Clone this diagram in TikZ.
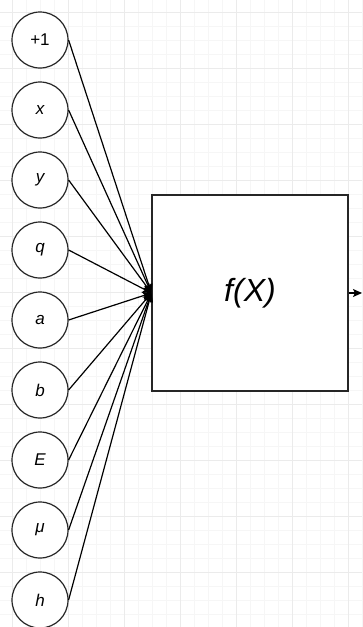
\documentclass[tikz,border=0pt]{standalone}
\usepackage{fontspec}
\setmainfont{Liberation Sans}
\usetikzlibrary{arrows.meta}
\definecolor{gridmajor}{HTML}{EBEBEB}
\definecolor{gridminor}{HTML}{F6F6F6}
\definecolor{strokegray}{HTML}{262626}
\tikzset{
  inputnode/.style={circle, draw=strokegray, line width=1.2pt, minimum size=56pt, inner sep=0pt, font=\fontsize{17}{19}\selectfont\itshape, fill=white},
  funcbox/.style={draw=strokegray, line width=1.2pt, minimum width=196pt, minimum height=196pt, inner sep=0pt, fill=white, font=\fontsize{32}{36}\selectfont\itshape},
  conn/.style={line width=1.2pt, black, -{Stealth[length=9pt,width=8pt,inset=2pt]}},
}
\begin{document}
\begin{tikzpicture}[x=1pt,y=-1pt]
\useasboundingbox (0,0) rectangle (362,627);
\fill[white] (0,0) rectangle (362,627);
% minor grid
\foreach \i in {0,...,26} {
  \draw[gridminor, line width=0.8pt] ({-2+14*\i},0) -- ({-2+14*\i},627);
}
\foreach \j in {0,...,45} {
  \draw[gridminor, line width=0.8pt] (0,{-1.5+14*\j}) -- (362,{-1.5+14*\j});
}
% major grid
\foreach \i in {0,...,6} {
  \draw[gridmajor, line width=1pt] ({12+56*\i},0) -- ({12+56*\i},627);
}
\foreach \j in {0,...,11} {
  \draw[gridmajor, line width=1pt] (0,{12.5+56*\j}) -- (362,{12.5+56*\j});
}
% nodes
\node[inputnode] (n1) at (40,40) {\upshape +1};
\node[inputnode] (n2) at (40,110) {x};
\node[inputnode] (n3) at (40,180) {y};
\node[inputnode] (n4) at (40,250) {q};
\node[inputnode] (n5) at (40,320) {a};
\node[inputnode] (n6) at (40,390) {b};
\node[inputnode] (n7) at (40,460) {E};
\node[inputnode] (n8) at (40,530) {μ};
\node[inputnode] (n9) at (40,600) {h};
\node[funcbox] (f) at (250,293) {f(X)};
\coordinate (out) at (362,293);
% connectors
\foreach \k in {1,...,9} {
  \draw[conn] (n\k.east) -- (f.west);
}
\draw[conn] (f.east) -- (out);
\end{tikzpicture}
\end{document}
